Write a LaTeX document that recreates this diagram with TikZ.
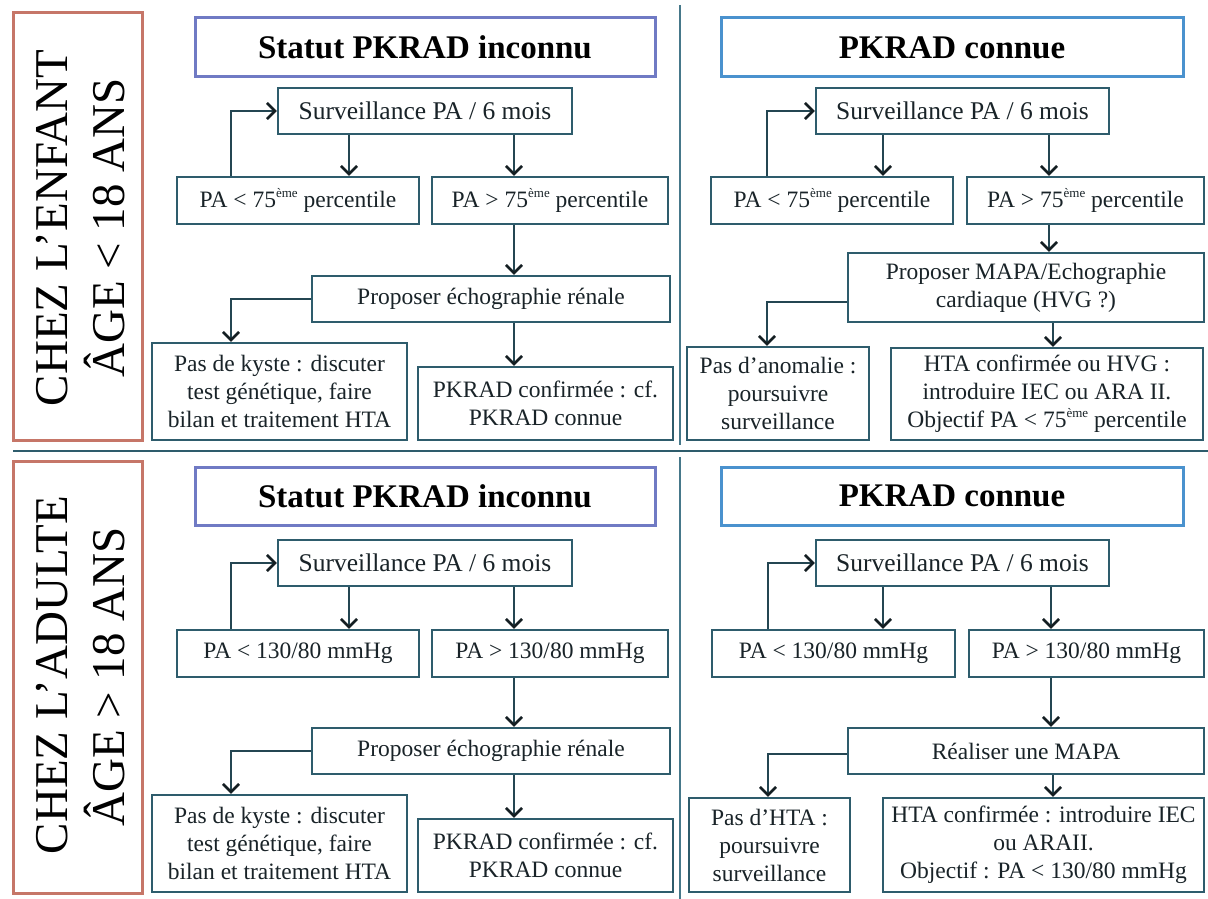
\documentclass[tikz,border=0pt]{standalone}
\usepackage{fontspec}
\setmainfont{Liberation Serif}
\usetikzlibrary{arrows.meta}
\definecolor{boxc}{RGB}{46,92,108}
\definecolor{linec}{RGB}{36,70,82}
\definecolor{tipc}{RGB}{20,30,34}
\definecolor{txtc}{RGB}{25,35,40}
\definecolor{sidec}{RGB}{198,118,104}
\definecolor{headL}{RGB}{112,122,196}
\definecolor{headR}{RGB}{74,146,206}
\definecolor{divc}{RGB}{70,120,138}
\newcommand{\eme}{\raisebox{0.42em}{\fontsize{13}{13}\selectfont ème}}
\tikzset{
  box/.style={draw=boxc, line width=2.4pt, fill=white, inner sep=0pt, align=center, text=txtc, font=\fontsize{23.5}{28}\selectfont},
  survbox/.style={box, font=\fontsize{25.5}{30}\selectfont},
  headbox/.style={draw=#1, line width=3pt, inner sep=0pt, text=black, font=\bfseries\fontsize{33}{38}\selectfont},
  sidebox/.style={draw=sidec, line width=3pt, inner sep=0pt},
  sidetxt/.style={rotate=90, inner sep=0pt, text=black, font=\fontsize{47}{56}\selectfont},
  arr/.style={draw=linec, line width=2.2pt, -{Straight Barb[length=8pt,width=16pt,line width=2.6pt,color=tipc]}},
  divline/.style={draw=divc, line width=2.5pt},
}
\begin{document}
\begin{tikzpicture}[x=1pt,y=-1pt]
\useasboundingbox (0,0) rectangle (1208,899);
% dividers
\coordinate (dvT1) at (680,5);
\coordinate (dvT2) at (680,445);
\coordinate (dvB1) at (680,457);
\coordinate (dvB2) at (680,899);
\coordinate (hz1) at (13,451);
\coordinate (hz2) at (1208,451);
\draw[divline] (dvT1) -- (dvT2);
\draw[divline] (dvB1) -- (dvB2);
\draw[draw=boxc, line width=2.5pt] (hz1) -- (hz2);

% ---------- side labels
\node[sidebox, minimum width=129pt, minimum height=427pt] (sideT) at (77.5,226.5) {};
\node[sidetxt] (sideT1) at (52.5,228) {CHEZ L’ENFANT};
\node[sidetxt] (sideT2) at (105,228) {ÂGE < 18 ANS};
\node[sidebox, minimum width=129pt, minimum height=432pt] (sideB) at (77.5,677) {};
\node[sidetxt] (sideB1) at (52.5,675) {CHEZ L’ADULTE};
\node[sidetxt] (sideB2) at (105,677) {ÂGE > 18 ANS};

% ---------- headings
\node[headbox=headL, minimum width=460pt, minimum height=59pt] (hTL) at (425,47.5) {Statut PKRAD inconnu};
\node[headbox=headR, minimum width=462pt, minimum height=59pt] (hTR) at (952,47.5) {PKRAD connue};
\node[headbox=headL, minimum width=460pt, minimum height=58pt] (hBL) at (425,496) {Statut PKRAD inconnu};
\node[headbox=headR, minimum width=462pt, minimum height=58pt] (hBR) at (952,496) {PKRAD connue};

% ---------- top-left
\node[survbox, minimum width=294pt, minimum height=46pt] (sTL) at (425,111) {Surveillance PA / 6 mois};
\node[box, minimum width=242pt, minimum height=47pt] (lTL) at (298,200.5) {PA < 75\eme{} percentile};
\node[box, minimum width=236pt, minimum height=47pt] (gTL) at (550,200.5) {PA > 75\eme{} percentile};
\node[box, minimum width=358pt, minimum height=46pt] (pTL) at (491,299) {Proposer échographie rénale};
\node[box, minimum width=255pt, minimum height=97pt] (kTL) at (279.5,391.5) {Pas de kyste : discuter\\test génétique, faire\\bilan et traitement HTA};
\node[box, minimum width=255pt, minimum height=73pt] (cTL) at (545.5,403.5) {PKRAD confirmée : cf.\\PKRAD connue};
\coordinate (xTLf) at (231,0);
\coordinate (xTL1) at (349,0);
\coordinate (xTL2) at (514,0);
\draw[arr] (sTL.south -| xTL1) -- (lTL.north -| xTL1);
\draw[arr] (sTL.south -| xTL2) -- (gTL.north -| xTL2);
\draw[arr] (lTL.north -| xTLf) |- (sTL.west);
\draw[arr] (gTL.south -| xTL2) -- (pTL.north -| xTL2);
\draw[arr] (pTL.south -| xTL2) -- (cTL.north -| xTL2);
\draw[arr] (pTL.west) -| (kTL.north -| xTLf);

% ---------- top-right
\node[survbox, minimum width=293pt, minimum height=46pt] (sTR) at (962.5,111) {Surveillance PA / 6 mois};
\node[box, minimum width=242pt, minimum height=47pt] (lTR) at (832,200.5) {PA < 75\eme{} percentile};
\node[box, minimum width=237pt, minimum height=47pt] (gTR) at (1085.5,200.5) {PA > 75\eme{} percentile};
\node[box, minimum width=356pt, minimum height=69pt] (pTR) at (1026,287.5) {Proposer MAPA/Echographie\\cardiaque (HVG ?)};
\node[box, minimum width=182pt, minimum height=93pt] (nTR) at (778,393.5) {Pas d’anomalie :\\poursuivre\\surveillance};
\node[box, minimum width=312pt, minimum height=92pt] (vTR) at (1047,394) {HTA confirmée ou HVG :\\introduire IEC ou ARA II.\\Objectif PA < 75\eme{} percentile};
\coordinate (xTRf) at (767,0);
\coordinate (xTR1) at (883,0);
\coordinate (xTR2) at (1049,0);
\coordinate (xTR3) at (1053,0);
\coordinate (yTRb) at (0,302);
\draw[arr] (sTR.south -| xTR1) -- (lTR.north -| xTR1);
\draw[arr] (sTR.south -| xTR2) -- (gTR.north -| xTR2);
\draw[arr] (lTR.north -| xTRf) |- (sTR.west);
\draw[arr] (gTR.south -| xTR2) -- (pTR.north -| xTR2);
\draw[arr] (pTR.south -| xTR3) -- (vTR.north -| xTR3);
\draw[arr] (pTR.west |- yTRb) -| (nTR.north -| xTRf);

% ---------- bottom-left
\node[survbox, minimum width=294pt, minimum height=46pt] (sBL) at (425,563) {Surveillance PA / 6 mois};
\node[box, minimum width=242pt, minimum height=47pt] (lBL) at (298,653.5) {PA < 130/80 mmHg};
\node[box, minimum width=236pt, minimum height=47pt] (gBL) at (550,653.5) {PA > 130/80 mmHg};
\node[box, minimum width=358pt, minimum height=46pt] (pBL) at (491,751) {Proposer échographie rénale};
\node[box, minimum width=255pt, minimum height=97pt] (kBL) at (279.5,843.5) {Pas de kyste : discuter\\test génétique, faire\\bilan et traitement HTA};
\node[box, minimum width=255pt, minimum height=73pt] (cBL) at (545.5,855.5) {PKRAD confirmée : cf.\\PKRAD connue};
\coordinate (xBLf) at (231,0);
\coordinate (xBL1) at (349,0);
\coordinate (xBL2) at (514,0);
\draw[arr] (sBL.south -| xBL1) -- (lBL.north -| xBL1);
\draw[arr] (sBL.south -| xBL2) -- (gBL.north -| xBL2);
\draw[arr] (lBL.north -| xBLf) |- (sBL.west);
\draw[arr] (gBL.south -| xBL2) -- (pBL.north -| xBL2);
\draw[arr] (pBL.south -| xBL2) -- (cBL.north -| xBL2);
\draw[arr] (pBL.west) -| (kBL.north -| xBLf);

% ---------- bottom-right
\node[survbox, minimum width=293pt, minimum height=46pt] (sBR) at (962.5,563) {Surveillance PA / 6 mois};
\node[box, minimum width=243pt, minimum height=47pt] (lBR) at (833.5,653.5) {PA < 130/80 mmHg};
\node[box, minimum width=235pt, minimum height=47pt] (gBR) at (1086.5,653.5) {PA > 130/80 mmHg};
\node[box, minimum width=356pt, minimum height=46pt] (rBR) at (1026,751) {Réaliser une MAPA};
\node[box, minimum width=161pt, minimum height=94pt] (nBR) at (769.5,845) {Pas d’HTA :\\poursuivre\\surveillance};
\node[box, minimum width=321pt, minimum height=94pt] (vBR) at (1043.5,845) {HTA confirmée : introduire IEC\\ou ARAII.\\Objectif : PA < 130/80 mmHg};
\coordinate (xBRf) at (768,0);
\coordinate (xBR1) at (883,0);
\coordinate (xBR2) at (1051,0);
\coordinate (xBR3) at (1053,0);
\coordinate (yBRb) at (0,754);
\draw[arr] (sBR.south -| xBR1) -- (lBR.north -| xBR1);
\draw[arr] (sBR.south -| xBR2) -- (gBR.north -| xBR2);
\draw[arr] (lBR.north -| xBRf) |- (sBR.west);
\draw[arr] (gBR.south -| xBR2) -- (rBR.north -| xBR2);
\draw[arr] (rBR.south -| xBR3) -- (vBR.north -| xBR3);
\draw[arr] (rBR.west |- yBRb) -| (nBR.north -| xBRf);
\end{tikzpicture}
\end{document}
